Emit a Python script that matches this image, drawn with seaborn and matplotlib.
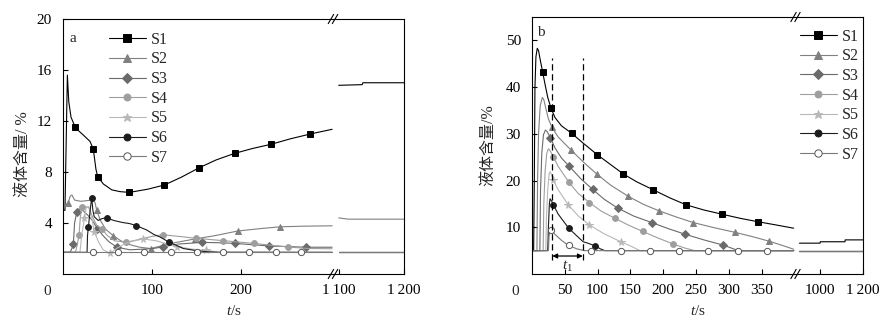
import numpy as np
import matplotlib
matplotlib.use("Agg")
import matplotlib.pyplot as plt
import seaborn as sns
from matplotlib.lines import Line2D

# ---------------- data: panel a ----------------
SERIES = ["S1", "S2", "S3", "S4", "S5", "S6", "S7"]

A_T_S1 = [0, 0.5, 2.2, 4.9, 6.5, 9, 13.5, 18, 22.8, 30.3, 34, 37, 39, 45.3, 54.7, 64, 74.5, 95,
          113.8, 133, 153, 172, 192.5, 213, 233.3, 255, 277.5, 302]
A_Y_S1 = [1.7, 5.0, 5.0, 15.6, 13.5, 12.3, 11.55, 11.2, 10.9, 10.4, 9.8, 8.2, 7.63, 7.06, 6.6, 6.46,
          6.4, 6.65, 6.98, 7.6, 8.34, 8.95, 9.46, 9.85, 10.17, 10.6, 10.98, 11.35]
A_M_S1 = [13.5, 34, 39, 74.5, 113.8, 153, 192.5, 233.3, 277.5]

A_T_S2 = [0, 1.5, 6, 8, 10, 13, 20, 26, 33, 36, 37.8, 42, 48, 56.5, 65, 75, 86, 98.5, 110, 125,
          148, 170, 196, 220, 243, 270, 302]
A_Y_S2 = [5.0, 5.3, 5.6, 6.1, 6.2, 5.8, 5.7, 5.75, 5.8, 5.6, 5.0, 4.2, 3.5, 3.0, 2.6, 2.3, 2.1,
          2.0, 2.2, 2.45, 2.75, 3.0, 3.37, 3.55, 3.7, 3.75, 3.78]
A_M_S2 = [6, 37.8, 56.5, 98.5, 148, 196, 243]

A_T_S3 = [0, 8, 10, 11.6, 13, 15.4, 18, 22, 28, 33, 38.6, 45, 52, 61, 75, 90, 101.5, 112.7, 130,
          156, 175, 192.5, 212, 231, 252, 273, 302]
A_Y_S3 = [1.7, 1.7, 2.0, 2.35, 4.0, 4.84, 5.1, 5.0, 4.6, 4.2, 3.55, 3.0, 2.5, 2.09, 1.9, 1.95, 2.0,
          2.14, 2.35, 2.48, 2.45, 2.4, 2.3, 2.2, 2.15, 2.1, 2.1]
A_M_S3 = [11.6, 15.4, 38.6, 61, 112.7, 156, 192.5, 231, 273]

A_T_S4 = [0, 14, 16, 18, 19.5, 21, 24, 29, 33, 38, 44, 50, 58, 70.8, 85, 100, 112, 130, 149.4,
          179, 214, 252, 275, 302]
A_Y_S4 = [1.7, 1.7, 2.3, 3.06, 4.5, 5.23, 5.3, 5.2, 4.5, 3.8, 3.5, 3.0, 2.6, 2.49, 2.7, 2.95,
          3.08, 2.95, 2.8, 2.62, 2.4, 2.12, 2.0, 1.98]
A_M_S4 = [18, 21, 44, 70.8, 112, 149.4, 179, 214, 252]

A_T_S5 = [0, 19, 21, 24, 26, 29, 32, 35.2, 40, 45, 52.8, 60, 70, 80, 90, 105, 127.7, 145, 160.7,
          175, 302]
A_Y_S5 = [1.7, 1.7, 3.0, 4.37, 5.2, 5.3, 4.5, 3.3, 2.5, 1.9, 1.62, 2.0, 2.4, 2.6, 2.75, 2.6,
          2.15, 1.95, 1.85, 1.72, 1.7]
A_M_S5 = [24, 35.2, 52.8, 90, 127.7, 160.7]

A_T_S6 = [0, 27, 27.5, 28.5, 30.5, 32.2, 33.5, 35, 39.5, 44, 49, 57, 66, 75, 82, 94, 102, 109,
          118.4, 127, 135, 148, 161, 175, 302]
A_Y_S6 = [1.7, 1.7, 3.0, 3.7, 5.0, 6.0, 5.0, 4.5, 4.2, 4.35, 4.4, 4.2, 4.05, 3.95, 3.8, 3.45,
          3.1, 2.9, 2.52, 2.25, 2.0, 1.85, 1.75, 1.7, 1.7]
A_M_S6 = [28.5, 32.2, 49, 82, 118.4]

A_T_S7 = [0, 33.3, 62.2, 91, 121, 150.2, 179.4, 209, 238.5, 267.4, 302]
A_Y_S7 = [1.7, 1.7, 1.7, 1.7, 1.7, 1.7, 1.7, 1.7, 1.7, 1.7, 1.7]
A_M_S7 = [33.3, 62.2, 91, 121, 150.2, 179.4, 209, 238.5, 267.4]

# right-hand (after break) segment, panel a
AR_T_S1 = [1100, 1136, 1137, 1200]
AR_Y_S1 = [14.8, 14.85, 15.0, 15.0]
AR_T_S2 = [1100, 1115, 1200]
AR_Y_S2 = [4.4, 4.3, 4.3]
AR_T_BASE = [1100, 1200]
AR_Y_BASE = [1.7, 1.7]

# ---------------- data: panel b ----------------
B_T_S1 = [0, 2.5, 3.5, 4.5, 6, 8, 10, 13, 16.3, 20, 24, 29, 35, 45, 60.6, 78, 99.8, 120, 139.4,
          160, 185.2, 210, 235, 262, 289.6, 318, 344, 372, 399]
B_Y_S1 = [5.0, 5.0, 20, 40, 46.5, 48.3, 47.8, 45.5, 43.2, 40.5, 37.8, 35.5, 33.5, 31.7, 30.1,
          28.0, 25.5, 23.4, 21.4, 19.7, 18.0, 16.3, 14.8, 13.7, 12.8, 11.9, 11.2, 10.5, 9.8]
B_M_S1 = [16.3, 29, 60.6, 99.8, 139.4, 185.2, 235, 289.6, 344]

B_T_S2 = [0, 7.5, 8.5, 10, 12.5, 15.8, 18, 21, 25, 30, 40, 59, 78, 98.7, 120, 147, 170, 194, 220,
          246, 278, 310, 336, 362, 380, 399]
B_Y_S2 = [5.0, 5.0, 20, 30, 36, 37.8, 37.3, 35.5, 33.2, 31.5, 29.3, 26.6, 24.0, 21.4, 19.0, 16.6,
          14.9, 13.5, 12.2, 11.0, 9.9, 8.9, 8.0, 7.0, 6.2, 5.3]
B_M_S2 = [30, 59, 98.7, 147, 194, 246, 310, 362]

B_T_S3 = [0, 12, 13, 15, 17.5, 20.4, 23, 28, 35, 45, 56.5, 75, 92.6, 110, 130.8, 155, 182.7, 208,
          233.6, 262, 291, 305, 315, 399]
B_Y_S3 = [5.0, 5.0, 18, 26, 29.8, 30.8, 30.5, 29.2, 27.0, 24.8, 23.1, 20.3, 18.1, 16.0, 14.1,
          12.4, 11.0, 9.7, 8.5, 7.3, 6.2, 5.5, 5.0, 5.0]
B_M_S3 = [28, 56.5, 92.6, 130.8, 182.7, 233.6, 291]

B_T_S4 = [0, 17, 18, 20, 22.5, 25, 28, 32.5, 40, 56.5, 70, 87.5, 105, 126.7, 148, 169, 192,
          215.7, 232, 248, 399]
B_Y_S4 = [5.0, 5.0, 15, 22, 25.8, 26.8, 26.3, 25.1, 23.0, 19.6, 17.3, 15.3, 13.5, 11.9, 10.4,
          9.1, 7.7, 6.4, 5.6, 5.0, 5.0]
B_M_S4 = [32.5, 56.5, 87.5, 126.7, 169, 215.7]

B_T_S5 = [0, 21, 22, 24, 26, 27.5, 30, 32.5, 40, 55.4, 70, 87.5, 110, 135.4, 150, 165, 399]
B_Y_S5 = [5.0, 5.0, 12, 18, 21.3, 21.9, 21.2, 20.1, 18.0, 14.8, 12.5, 10.5, 8.6, 6.9, 6.0, 5.0, 5.0]
B_M_S5 = [32.5, 55.4, 87.5, 135.4]

B_T_S6 = [0, 24, 25, 26.5, 27.5, 30, 32.5, 40, 56, 68, 78, 85, 96.7, 104, 111, 399]
B_Y_S6 = [5.0, 5.0, 10, 15, 16.1, 15.6, 14.8, 12.8, 9.8, 8.2, 6.9, 6.6, 6.0, 5.4, 5.0, 5.0]
B_M_S6 = [32.5, 56, 96.7]

B_T_S7 = [0, 25, 26, 27.5, 29, 35, 45, 56, 68, 80, 90, 135.4, 180, 224.4, 269, 313.4, 358, 399]
B_Y_S7 = [5.0, 5.0, 8, 9.6, 9.4, 8.5, 7.2, 6.1, 5.4, 5.0, 5.0, 5.0, 5.0, 5.0, 5.0, 5.0, 5.0, 5.0]
B_M_S7 = [29, 56, 90, 135.4, 180, 224.4, 269, 313.4, 358]

BR_T_S1 = [904, 1000, 1001, 1116, 1117, 1200]
BR_Y_S1 = [6.6, 6.6, 6.9, 6.9, 7.3, 7.3]
BR_T_BASE = [904, 1200]
BR_Y_BASE = [5.0, 5.0]

# tick labels
A_XTICKS = [100, 200, 1100, 1200]
A_XLABELS = ["100", "200", "1\u2009100", "1\u2009200"]
A_YTICKS = [4, 8, 12, 16, 20]
B_XTICKS = [50, 100, 150, 200, 250, 300, 350, 1000, 1200]
B_XLABELS = ["50", "100", "150", "200", "250", "300", "350", "1000", "1\u2009200"]
B_YTICKS = [10, 20, 30, 40, 50]
T1_START, T1_END = 31, 77.4

# ---------------- style ----------------
sns.set_style("ticks")
plt.rcParams["font.family"] = ["Liberation Serif", "DejaVu Sans", "Noto Sans CJK SC"]
plt.rcParams["mathtext.fontset"] = "custom"
plt.rcParams["mathtext.rm"] = "Liberation Serif"
plt.rcParams["mathtext.it"] = "Liberation Serif:italic"
plt.rcParams["font.size"] = 11
plt.rcParams["axes.linewidth"] = 0.8
plt.rcParams["axes.edgecolor"] = "black"

FS = 11

STYLE = {
    "S1": dict(color="#000000", marker="s", ms=5.0, mfc="#000000", mec="#000000"),
    "S2": dict(color="#808080", marker="^", ms=5.0, mfc="#808080", mec="#808080"),
    "S3": dict(color="#6a6a6a", marker="D", ms=4.0, mfc="#6a6a6a", mec="#6a6a6a"),
    "S4": dict(color="#9e9e9e", marker="o", ms=4.2, mfc="#9e9e9e", mec="#9e9e9e"),
    "S5": dict(color="#b8b8b8", marker="*", ms=5.5, mfc="#b8b8b8", mec="#b8b8b8"),
    "S6": dict(color="#1c1c1c", marker="o", ms=4.2, mfc="#1c1c1c", mec="#1c1c1c"),
    "S7": dict(color="#7a7a7a", marker="o", ms=4.5, mfc="white", mec="#555555"),
}
LW = 0.8


def broken_scale(ax, xp, up):
    xp = np.asarray(xp, float)
    up = np.asarray(up, float)
    s0 = (up[1] - up[0]) / (xp[1] - xp[0])
    s1 = (up[-1] - up[-2]) / (xp[-1] - xp[-2])
    xe = np.concatenate([[xp[0] - 1e6], xp, [xp[-1] + 1e6]])
    ue = np.concatenate([[up[0] - 1e6 * s0], up, [up[-1] + 1e6 * s1]])

    def fwd(x):
        return np.interp(x, xe, ue)

    def inv(u):
        return np.interp(u, ue, xe)

    ax.set_xscale("function", functions=(fwd, inv))
    return fwd


def draw(ax, t, y, name, marks=None):
    st = STYLE[name]
    kws = dict(color=st["color"], linewidth=LW)
    if marks:
        tl = list(t)
        idx = [tl.index(m) for m in marks]
        kws.update(marker=st["marker"], markevery=idx, markersize=st["ms"],
                   markerfacecolor=st["mfc"], markeredgecolor=st["mec"],
                   markeredgewidth=0.7)
    sns.lineplot(x=t, y=y, ax=ax, estimator=None, sort=False, legend=False, **kws)


def break_marks(ax, frac_x):
    for yb in (0.0, 1.0):
        for off in (-0.006, 0.006):
            ax.plot([frac_x + off - 0.008, frac_x + off + 0.008], [yb - 0.018, yb + 0.018],
                    transform=ax.transAxes, color="black", lw=0.8, clip_on=False, zorder=10)


def legend(ax, x, y):
    handles = []
    for n in SERIES:
        st = STYLE[n]
        handles.append(Line2D([], [], color=st["color"], lw=LW, marker=st["marker"],
                              markersize=st["ms"] + 0.8, markerfacecolor=st["mfc"],
                              markeredgecolor=st["mec"], markeredgewidth=0.7))
    ax.legend(handles, SERIES, loc="upper left", bbox_to_anchor=(x, y), frameon=False,
              borderpad=0, borderaxespad=0, handlelength=2.3, handletextpad=0.3,
              labelspacing=0.23, fontsize=11.5)


fig = plt.figure(figsize=(8.91, 3.29), dpi=100)
axa = fig.add_axes([63 / 891, 1 - 274 / 329, 341 / 891, 255 / 329])
axb = fig.add_axes([532 / 891, 1 - 274 / 329, 331 / 891, 257 / 329])

# ---- panel a ----
broken_scale(axa, [0, 303, 1092, 1200], [0, 270, 270.5, 341])
a_left = [(A_T_S1, A_Y_S1, A_M_S1), (A_T_S2, A_Y_S2, A_M_S2), (A_T_S3, A_Y_S3, A_M_S3),
          (A_T_S4, A_Y_S4, A_M_S4), (A_T_S5, A_Y_S5, A_M_S5), (A_T_S6, A_Y_S6, A_M_S6),
          (A_T_S7, A_Y_S7, A_M_S7)]
a_right = [(AR_T_S1, AR_Y_S1), (AR_T_S2, AR_Y_S2)] + [(AR_T_BASE, AR_Y_BASE)] * 5
for n, (t, y, m), (tr, yr) in zip(SERIES, a_left, a_right):
    draw(axa, t, y, n, m)
    draw(axa, tr, yr, n)
axa.set_xlim(0, 1200)
axa.set_ylim(0, 20)
axa.set_xticks(A_XTICKS)
axa.set_xticklabels(A_XLABELS)
axa.set_yticks(A_YTICKS)
axa.set_ylabel("液体含量/ %", fontsize=11.5)
axa.yaxis.set_label_coords(-0.095, 0.47)
axa.set_xlabel("$t$/s", labelpad=5, fontsize=FS)
axa.text(-0.046, -0.07, "0", transform=axa.transAxes, ha="center", va="center", fontsize=FS)
axa.text(0.03, 0.925, "a", transform=axa.transAxes, ha="center", va="center", fontsize=FS)
break_marks(axa, 270 / 341)
legend(axa, 0.135, 0.95)

# ---- panel b ----
broken_scale(axb, [0, 401, 888, 1200], [0, 263, 264, 331])
b_left = [(B_T_S1, B_Y_S1, B_M_S1), (B_T_S2, B_Y_S2, B_M_S2), (B_T_S3, B_Y_S3, B_M_S3),
          (B_T_S4, B_Y_S4, B_M_S4), (B_T_S5, B_Y_S5, B_M_S5), (B_T_S6, B_Y_S6, B_M_S6),
          (B_T_S7, B_Y_S7, B_M_S7)]
b_right = [(BR_T_S1, BR_Y_S1)] + [(BR_T_BASE, BR_Y_BASE)] * 6
for n, (t, y, m), (tr, yr) in zip(SERIES, b_left, b_right):
    draw(axb, t, y, n, m)
    draw(axb, tr, yr, n)
axb.set_xlim(0, 1200)
axb.set_ylim(0, 55)
axb.set_xticks(B_XTICKS)
axb.set_xticklabels(B_XLABELS)
axb.set_yticks(B_YTICKS)
axb.set_ylabel("液体含量/%", fontsize=11.5)
axb.yaxis.set_label_coords(-0.108, 0.5)
axb.set_xlabel("$t$/s", labelpad=5, fontsize=FS)
axb.text(-0.05, -0.07, "0", transform=axb.transAxes, ha="center", va="center", fontsize=FS)
axb.text(0.028, 0.94, "b", transform=axb.transAxes, ha="center", va="center", fontsize=FS)
for xd in (T1_START, T1_END):
    axb.plot([xd, xd], [3.0, 46.2], color="black", lw=0.9, ls=(0, (5, 3)))
axb.annotate("", xy=(T1_START, 3.85), xytext=(T1_END, 3.85),
             arrowprops=dict(arrowstyle="<|-|>", color="black", lw=0.9, shrinkA=0, shrinkB=0,
                             mutation_scale=7))
axb.text((T1_START + T1_END) / 2, 1.6, "$t_1$", ha="center", va="center", fontsize=FS)
break_marks(axb, 263.5 / 331)
legend(axb, 0.81, 0.955)

for ax in (axa, axb):
    ax.tick_params(direction="in", length=3.5, width=0.8, labelsize=FS, colors="black")
    ax.tick_params(axis="x", pad=7)
    ax.tick_params(axis="y", pad=8)
    ax.minorticks_off()
    for sp in ax.spines.values():
        sp.set_visible(True)
        sp.set_color("black")
        sp.set_linewidth(0.8)

fig.savefig("out.png", dpi=100)
